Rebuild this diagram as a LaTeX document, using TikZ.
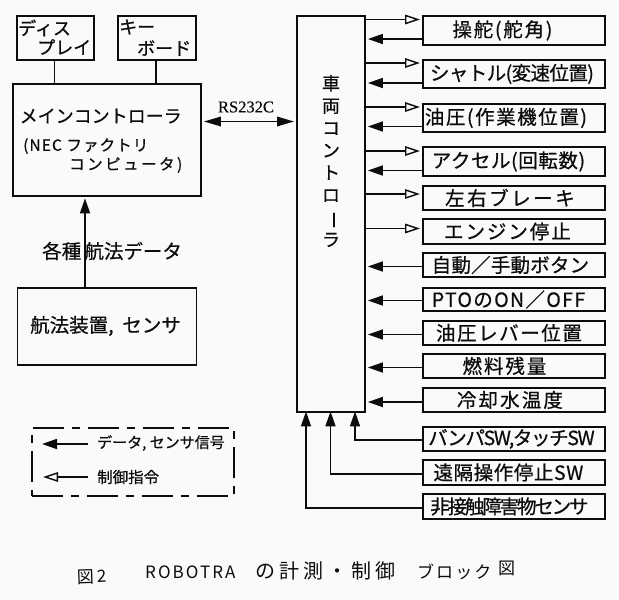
\documentclass[tikz,border=0pt]{standalone}
\usepackage{fontspec}
\usepackage{graphicx}
\usetikzlibrary{arrows.meta}
\setmainfont[FakeBold=0.6]{Noto Sans CJK JP}
\newfontfamily\serifrs[FakeBold=0.3]{Liberation Serif}
\newfontfamily\handfont{Noto Sans CJK JP}
\definecolor{ink}{HTML}{0C0C0C}
\definecolor{paper}{HTML}{FAFAFA}
\tikzset{
  box/.style={draw=ink,line width=1.9pt,anchor=north west,inner sep=0pt,text=ink,align=center},
  lbl/.style={inner sep=0pt,text=ink,anchor=west,font=\fontsize{18}{22}\selectfont},
  rowtext/.style={font=\fontsize{19.5}{20}\selectfont},
  conn/.style={draw=ink,line width=1.7pt},
  solidin/.style={conn,-{Triangle[length=15pt,width=10pt]}},
  openout/.style={conn,-{Triangle[open,length=15pt,width=9.5pt,line width=1.4pt]}},
  both/.style={conn,{Triangle[length=17pt,width=9.5pt]}-{Triangle[length=17pt,width=9.5pt]}},
  hand/.style={inner sep=0pt,text=ink,font=\handfont\fontsize{17}{20}\selectfont},
}
% name, top, bottom, letter spacing, horizontal offset (twice the shift), text
\newcommand{\rowbox}[6]{\node[box,rowtext,minimum width=182pt,minimum height=#3 pt-#2 pt] (#1) at (422,#2) {\addfontfeature{LetterSpace=#4}\hspace*{#5pt}#6};}
\newcommand{\lsp}[1]{\addfontfeature{LetterSpace=#1}}
\begin{document}
\begin{tikzpicture}[x=1pt,y=-1pt]
\fill[paper] (0,0) rectangle (619,600);
\useasboundingbox (0,0) rectangle (619,600);

% left boxes
\node[box,minimum width=77pt,minimum height=44pt] (disp) at (16,15) {};
\node[box,minimum width=78pt,minimum height=44pt] (kbd) at (117,15) {};
\node[box,minimum width=188pt,minimum height=112pt] (main) at (12,83) {};
\node[box,minimum width=179pt,minimum height=77pt] (nav) at (16.5,287) {};
\node[box,minimum width=68pt,minimum height=396pt] (veh) at (296,15) {};

\node[lbl] (t1a) at (18,28) {ディス};
\node[lbl] (t1b) at (37,47) {プレイ};
\node[lbl] (t2a) at (119,27) {キー};
\node[lbl] (t2b) at (137,48) {ボード};
\node[lbl] (t3) at (19.5,116) {メインコントローラ};
\node[lbl,font=\fontsize{15.5}{18}\selectfont] (t4) at (23,146) {\lsp{7}(NEC ファクトリ};
\node[lbl,font=\fontsize{15.5}{18}\selectfont] (t5) at (69,165) {\lsp{16}コンピュータ)};
\node[lbl,font=\fontsize{19.5}{22}\selectfont] (t6) at (42,251) {各種\,航法データ};
\node[lbl,font=\fontsize{19.5}{22}\selectfont] (t7) at (30,326) {航法装置,\ \ センサ};
\node[inner sep=0pt,text=ink,font=\serifrs\fontsize{16.5}{18}\selectfont] (rs) at (246,107) {RS232C};
\node[inner sep=0pt,text=ink,align=center,font=\fontsize{18}{22.3}\selectfont] (vt) at (331,161) {車\\両\\コ\\ン\\ト\\ロ\\\smash{\rotatebox[origin=c]{-90}{ー}}\\ラ};

% right boxes
\rowbox{a}{15}{44}{9}{-23}{操舵(舵角)}
\rowbox{b}{59}{87}{-3}{-4}{シャトル(変速位置)}
\rowbox{c}{103}{131}{8}{-16}{油圧(作業機位置)}
\rowbox{d}{146}{175}{3}{-11}{アクセル(回転数)}
\rowbox{e}{185}{209}{13}{-8}{左右ブレーキ}
\rowbox{f}{218}{243}{10}{-13}{エンジン停止}
\rowbox{g}{252}{276}{1}{-7}{自動／手動ボタン}
\rowbox{h}{287}{310}{7}{-11}{PTOのON／OFF}
\rowbox{i}{320}{344}{8}{-10}{油圧レバー位置}
\rowbox{j}{353}{377}{10}{-19}{燃料残量}
\rowbox{k}{387}{411}{11}{-8}{冷却水温度}
\rowbox{l}{426}{450}{-7}{-5}{バンパSW,タッチSW}
\rowbox{m}{459}{484}{3}{-11}{遠隔操作停止SW}
\rowbox{n}{493}{518}{-11}{-9}{非接触障害物センサ}

% left connectors
\draw[conn] (disp.south -| 54.5,0) -- (main.north -| 54.5,0);
\draw[conn] (kbd.south -| 156,0) -- (main.north -| 156,0);
\draw[solidin] (nav.north -| 85,0) -- ([yshift=-1.5pt]main.south -| 85,0);
\draw[both] ([xshift=2pt]main.east |- 0,121.5) -- ([xshift=-2pt]veh.west |- 0,121.5);

% right connectors
\foreach \bx/\yo/\yi in {a/19.5/39,b/63/83,c/107/126.5,d/151/170.5}{
  \draw[openout] (veh.east |- 0,\yo) -- ([xshift=-2pt]\bx.west |- 0,\yo);
  \draw[solidin] (\bx.west |- 0,\yi) -- ([xshift=2pt]veh.east |- 0,\yi);
}
\draw[openout] (veh.east |- 0,194) -- ([xshift=-2pt]e.west |- 0,194);
\draw[openout] (veh.east |- 0,228.5) -- ([xshift=-2pt]f.west |- 0,228.5);
\foreach \bx/\yi in {g/266.5,h/300.5,i/334.5,j/367.5,k/402}{
  \draw[solidin] (\bx.west |- 0,\yi) -- ([xshift=2pt]veh.east |- 0,\yi);
}
\draw[solidin] (l.west |- 0,440) -| ([yshift=1.5pt]veh.south -| 355,0);
\draw[solidin] (m.west |- 0,474) -| ([yshift=1.5pt]veh.south -| 330.5,0);
\draw[solidin] (n.west |- 0,508) -| ([yshift=1.5pt]veh.south -| 306,0);

% legend
\node[draw=ink,line width=1.5pt,dash pattern=on 31pt off 8pt on 8pt off 8pt,anchor=north west,minimum width=202pt,minimum height=68pt,inner sep=0pt] (leg) at (31,427) {};
\coordinate (la1) at (88,444);
\coordinate (la2) at (42,444);
\coordinate (lb1) at (88,477);
\coordinate (lb2) at (43,477);
\draw[solidin] (la1) -- (la2);
\draw[openout] (lb1) -- (lb2);
\node[lbl,font=\fontsize{15}{18}\selectfont] (l1) at (97,443) {データ, センサ信号};
\node[lbl,font=\fontsize{15.5}{18}\selectfont] (l2) at (97,477) {制御指令};

% caption
\node[hand,anchor=west,rotate=2] (c1) at (77,577) {\lsp{20}図2};
\node[hand,anchor=west] (c2) at (145,572) {\lsp{12}ROBOTRA};
\node[hand,anchor=west,font=\handfont\fontsize{20}{22}\selectfont] (c3) at (255,571) {\lsp{20}の計測・制御};
\node[hand,anchor=west] (c4) at (417,572) {\lsp{12}ブロック};
\node[hand,anchor=west] (c5) at (498,568) {図};
\end{tikzpicture}
\end{document}
